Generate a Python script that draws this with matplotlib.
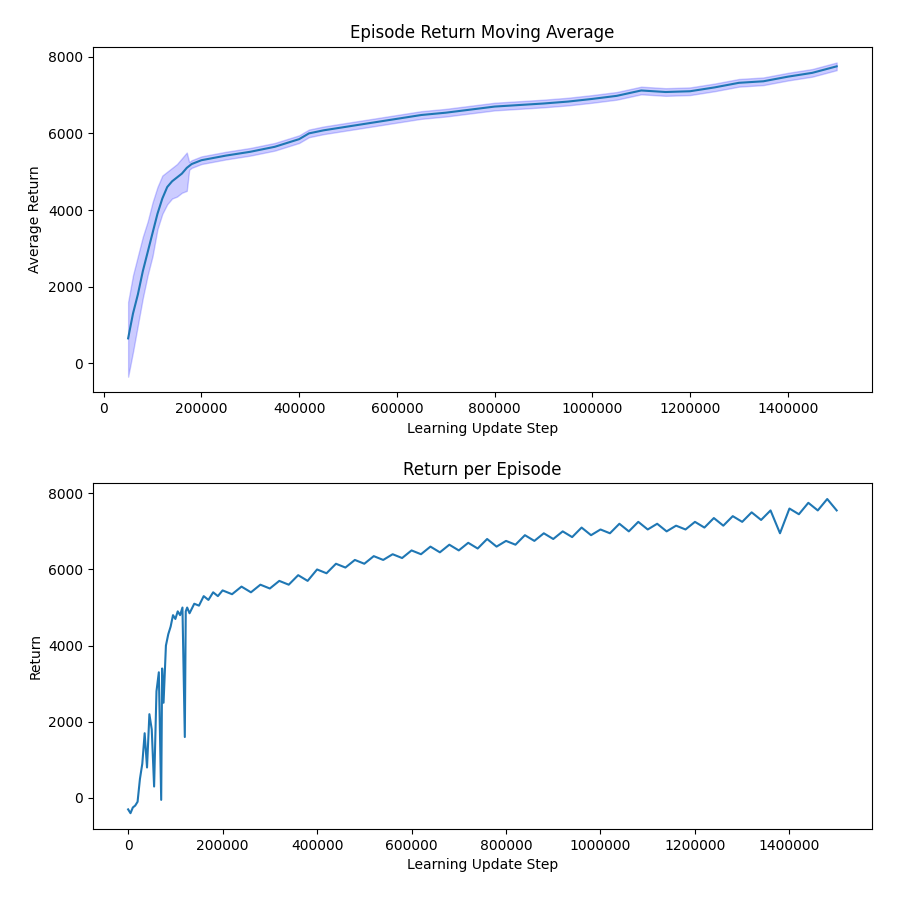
import matplotlib.pyplot as plt

# moving average (top)
avg_x = [50000, 60000, 70000, 80000, 90000, 100000, 110000, 120000, 130000, 140000,
         150000, 160000, 170000, 175000, 180000, 200000, 250000, 300000, 350000, 400000,
         420000, 450000, 500000, 550000, 600000, 650000, 700000, 750000, 800000, 850000,
         900000, 950000, 1000000, 1050000, 1100000, 1150000, 1200000, 1250000, 1300000,
         1350000, 1400000, 1450000, 1500000]
avg_y = [650, 1300, 1800, 2400, 2900, 3400, 3900, 4300, 4600, 4750,
         4850, 4950, 5100, 5150, 5200, 5300, 5420, 5520, 5650, 5850,
         6000, 6080, 6180, 6280, 6380, 6480, 6540, 6620, 6700, 6740,
         6780, 6830, 6900, 6980, 7120, 7080, 7100, 7200, 7320, 7360,
         7480, 7580, 7750]
avg_lo = [-350, 300, 1000, 1700, 2300, 2800, 3500, 3900, 4150, 4300,
          4350, 4450, 4500, 5050, 5100, 5200, 5320, 5420, 5550, 5750,
          5900, 5980, 6080, 6180, 6280, 6380, 6440, 6520, 6600, 6640,
          6680, 6730, 6800, 6880, 7020, 6980, 7000, 7100, 7220, 7260,
          7380, 7480, 7650]
avg_hi = [1600, 2300, 2800, 3300, 3700, 4200, 4600, 4900, 5000, 5100,
          5200, 5350, 5500, 5250, 5300, 5400, 5520, 5620, 5750, 5950,
          6100, 6180, 6280, 6380, 6480, 6580, 6640, 6720, 6800, 6840,
          6880, 6930, 7000, 7080, 7220, 7180, 7200, 7300, 7420, 7460,
          7580, 7680, 7850]

# return per episode (bottom)
ret_x = [0, 5000, 10000, 15000, 20000, 25000, 30000, 35000, 40000, 45000,
         50000, 55000, 60000, 65000, 70000, 72000, 75000, 80000, 85000, 90000,
         95000, 100000, 105000, 110000, 115000, 120000, 122000, 125000, 130000, 140000,
         150000, 160000, 170000, 180000, 190000, 200000, 220000, 240000, 260000, 280000,
         300000, 320000, 340000, 360000, 380000, 400000, 420000, 440000, 460000, 480000,
         500000, 520000, 540000, 560000, 580000, 600000, 620000, 640000, 660000, 680000,
         700000, 720000, 740000, 760000, 780000, 800000, 820000, 840000, 860000, 880000,
         900000, 920000, 940000, 960000, 980000, 1000000, 1020000, 1040000, 1060000, 1080000,
         1100000, 1120000, 1140000, 1160000, 1180000, 1200000, 1220000, 1240000, 1260000, 1280000,
         1300000, 1320000, 1340000, 1360000, 1380000, 1400000, 1420000, 1440000, 1460000, 1480000,
         1500000]
ret_y = [-300, -400, -250, -200, -100, 500, 900, 1700, 800, 2200,
         1800, 300, 2800, 3300, -50, 3400, 2500, 4000, 4300, 4500,
         4800, 4700, 4900, 4800, 5000, 1600, 4900, 5000, 4850, 5100,
         5050, 5300, 5200, 5400, 5300, 5450, 5350, 5550, 5400, 5600,
         5500, 5700, 5600, 5850, 5700, 6000, 5900, 6150, 6050, 6250,
         6150, 6350, 6250, 6400, 6300, 6500, 6400, 6600, 6450, 6650,
         6500, 6700, 6550, 6800, 6600, 6750, 6650, 6900, 6750, 6950,
         6800, 7000, 6850, 7100, 6900, 7050, 6950, 7200, 7000, 7250,
         7050, 7200, 7000, 7150, 7050, 7250, 7100, 7350, 7150, 7400,
         7250, 7500, 7300, 7550, 6950, 7600, 7450, 7750, 7550, 7850,
         7550]

fig, (ax1, ax2) = plt.subplots(2, 1, figsize=(9, 9), dpi=100)
fig.subplots_adjust(left=0.103, right=0.969, top=0.948, bottom=0.079, hspace=0.263)

ax1.fill_between(avg_x, avg_lo, avg_hi, color="blue", alpha=0.2)
ax1.plot(avg_x, avg_y, color="tab:blue")
ax1.set_title("Episode Return Moving Average")
ax1.set_xlabel("Learning Update Step")
ax1.set_ylabel("Average Return")
ax1.ticklabel_format(style="plain", axis="x")

ax2.plot(ret_x, ret_y, color="tab:blue")
ax2.set_title("Return per Episode")
ax2.set_xlabel("Learning Update Step")
ax2.set_ylabel("Return")
ax2.ticklabel_format(style="plain", axis="x")

fig.savefig("out.png")
